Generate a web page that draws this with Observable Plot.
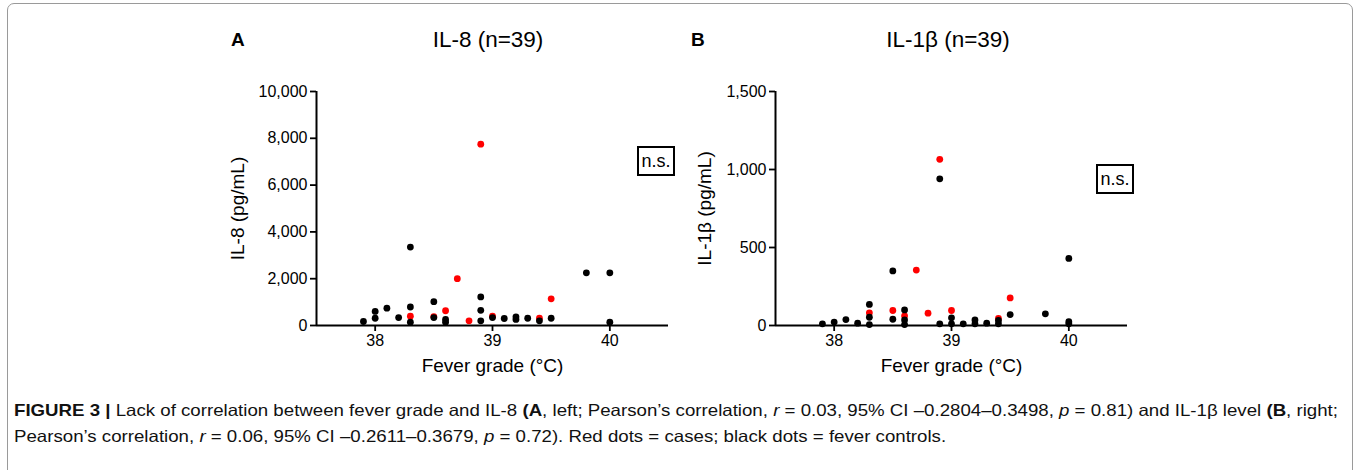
<!DOCTYPE html>
<html>
<head>
<meta charset="utf-8">
<script src="https://cdn.jsdelivr.net/npm/d3@7"></script>
<script src="https://cdn.jsdelivr.net/npm/@observablehq/plot@0.6"></script>
<style>
  html, body { margin: 0; padding: 0; background: #fff; }
  body { width: 1362px; height: 470px; position: relative; overflow: hidden; font-family: "Liberation Sans", Arial, Helvetica, sans-serif; color: #000; }
  .abs { position: absolute; }
  .frame { left: 7px; top: 3px; width: 1346px; height: 520px; border: 1px solid #9a9a9a; border-radius: 7px; box-sizing: border-box; }
  .letter { font-weight: bold; font-size: 19px; transform: translate(0, -50%); }
  .title { font-size: 22.5px; transform: translate(-50%, -50%); white-space: nowrap; }
  .ns { border: 2px solid #000; font-size: 18px; box-sizing: border-box; display: flex; align-items: center; justify-content: center; }
  .cap { left: 14px; font-size: 16.5px; white-space: nowrap; transform-origin: 0 0; font-family: "Liberation Sans", Arial, sans-serif; color: #111; }
</style>
</head>
<body>
<div class="abs frame"></div>
<div class="abs letter" style="left:231px; top:40px;">A</div>
<div class="abs title" style="left:488px; top:40px;">IL-8 (n=39)</div>
<div class="abs letter" style="left:691px; top:40px;">B</div>
<div class="abs title" style="left:948px; top:40px;">IL-1β (n=39)</div>
<div class="abs ns" style="left:637px; top:146px; width:38px; height:30px;">n.s.</div>
<div class="abs ns" style="left:1096px; top:164px; width:38px; height:30px;">n.s.</div>
<div id="pa" class="abs" style="left:220px; top:60px;"></div>
<div id="pb" class="abs" style="left:680px; top:60px;"></div>
<div id="cap1" class="abs cap" style="top:401px;"><b>FIGURE 3 |</b> Lack of correlation between fever grade and IL-8 <b>(A</b>, left; Pearson’s correlation, <i>r</i> = 0.03, 95% CI –0.2804–0.3498, <i>p</i> = 0.81) and IL-1β level <b>(B</b>, right;</div>
<div id="cap2" class="abs cap" style="top:427px;">Pearson’s correlation, <i>r</i> = 0.06, 95% CI –0.2611–0.3679, <i>p</i> = 0.72). Red dots = cases; black dots = fever controls.</div>
<script>
// ---- Data ----
// Panel A: IL-8 (pg/mL) vs fever grade (°C)
const feverA_controls = [37.9, 38.0, 38.0, 38.1, 38.2, 38.3, 38.3, 38.3, 38.5, 38.5, 38.6, 38.6, 38.9, 38.9, 38.9, 39.0, 39.1, 39.2, 39.2, 39.3, 39.4, 39.5, 39.8, 40.0, 40.0];
const il8_controls    = [170, 600, 310, 740, 340, 3350, 790, 140, 1020, 340, 260, 140, 1220, 650, 200, 340, 300, 370, 260, 310, 200, 310, 2250, 2250, 140];
const feverA_cases    = [38.3, 38.5, 38.6, 38.7, 38.8, 38.9, 39.0, 39.4, 39.5];
const il8_cases       = [400, 380, 630, 2000, 200, 7750, 400, 310, 1140];
// Panel B: IL-1β (pg/mL) vs fever grade (°C)
const feverB_controls = [37.9, 38.0, 38.1, 38.2, 38.3, 38.3, 38.3, 38.5, 38.5, 38.6, 38.6, 38.6, 38.9, 38.9, 39.0, 39.0, 39.1, 39.2, 39.2, 39.3, 39.4, 39.4, 39.5, 39.8, 40.0, 40.0, 40.0];
const il1b_controls   = [11, 22, 38, 15, 135, 53, 6, 350, 40, 100, 36, 6, 940, 11, 49, 11, 11, 36, 11, 15, 32, 11, 70, 75, 430, 24, 11];
const feverB_cases    = [38.3, 38.5, 38.6, 38.7, 38.8, 38.9, 39.0, 39.4, 39.5];
const il1b_cases      = [81, 96, 62, 355, 79, 1065, 96, 45, 177];
// Ticks
const xTicks = [38, 39, 40];
const xDomain = [37.5, 40.5];
const yTicksA = [0, 2000, 4000, 6000, 8000, 10000];
const yTicksB = [0, 500, 1000, 1500];

const zip = (xs, ys) => xs.map((x, i) => ({x, y: ys[i]}));

function panel({controls, cases, yTicks, yLabel, marginLeft, marginRight, yLabelOffset}) {
  const yMax = yTicks[yTicks.length - 1];
  return Plot.plot({
    width: 470,
    height: 315,
    marginLeft, marginRight,
    marginTop: 31,
    marginBottom: 50,
    style: {fontFamily: '"Liberation Sans", Arial, sans-serif', fontSize: "16px", color: "#000", background: "transparent", overflow: "visible"},
    x: {domain: xDomain},
    y: {domain: [0, yMax]},
    marks: [
      Plot.axisX({ticks: xTicks, tickSize: 6, tickPadding: 3, strokeWidth: 1.8, fontSize: 16,
        tickFormat: d3.format("d"),
        label: "Fever grade (°C)", labelAnchor: "center", labelArrow: "none", labelOffset: 46}),
      Plot.axisY({ticks: yTicks, tickSize: 6, tickPadding: 3, strokeWidth: 1.8, fontSize: 16,
        tickFormat: d3.format(","),
        label: yLabel, labelAnchor: "center", labelArrow: "none", labelOffset: yLabelOffset}),
      Plot.ruleY([0], {strokeWidth: 2}),
      Plot.ruleX([xDomain[0]], {strokeWidth: 2}),
      Plot.dot(cases, {x: "x", y: "y", r: 3.4, fill: "#ff0000"}),
      Plot.dot(controls, {x: "x", y: "y", r: 3.4, fill: "#000"})
    ]
  });
}

const a = panel({controls: zip(feverA_controls, il8_controls), cases: zip(feverA_cases, il8_cases),
  yTicks: yTicksA, yLabel: "IL-8 (pg/mL)", marginLeft: 96, marginRight: 22, yLabelOffset: 86});
const b = panel({controls: zip(feverB_controls, il1b_controls), cases: zip(feverB_cases, il1b_cases),
  yTicks: yTicksB, yLabel: "IL-1β (pg/mL)", marginLeft: 95, marginRight: 23, yLabelOffset: 78});
document.getElementById("pa").append(a);
document.getElementById("pb").append(b);
[a, b].forEach(svg => {
  svg.querySelectorAll('g[aria-label="x-axis label"] text, g[aria-label="y-axis label"] text').forEach(t => t.setAttribute("font-size", "19"));
});
// condense the caption to the width seen in the figure (same factor for both lines)
const c1 = document.getElementById("cap1");
const s = 1324 / c1.getBoundingClientRect().width;
c1.style.transform = `scaleX(${s})`;
document.getElementById("cap2").style.transform = `scaleX(${s})`;
</script>
</body>
</html>
